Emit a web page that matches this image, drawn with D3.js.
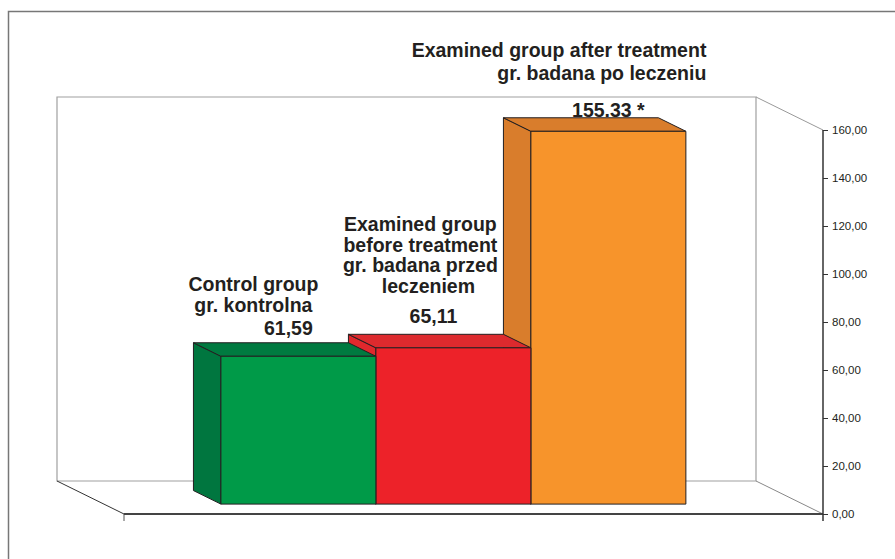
<!DOCTYPE html>
<html>
<head>
    <script src="https://d3js.org/d3.v7.min.js"></script>
    <style>
        body { margin: 0; background: #fff; }
        svg { display: block; }
        .lbl { font-family: "Liberation Sans", Arial, sans-serif; font-weight: bold; font-size: 19.5px; fill: #231f20; }
        .tick text { font-family: "Liberation Sans", Arial, sans-serif; font-size: 11.5px; fill: #231f20; }
    </style>
</head>
<body>
    <svg width="895" height="559"></svg>
    <script>
        // data
        const categories = ["Control group", "Examined group before treatment", "Examined group after treatment"];
        const values = [61.59, 65.11, 155.33];
        const valueLabels = ["61,59", "65,11", "155.33 *"];
        const labelLines = [
            ["Control group", "gr. kontrolna"],
            ["Examined group", "before treatment", "gr. badana przed", "leczeniem"],
            ["Examined group after treatment", "gr. badana po leczeniu"]
        ];
        const tickValues = [0, 20, 40, 60, 80, 100, 120, 140, 160];

        const colors = [
            {front: "#009a48", top: "#007a40", side: "#00763f"},
            {front: "#ed2229", top: "#dd2a2e", side: "#e0282d"},
            {front: "#f7942b", top: "#d97d2c", side: "#d97d2c"}
        ];

        const svg = d3.select("svg");
        const DX = -67, DY = -33;  // depth offset of back wall
        const z0 = 0.3, z1 = 0.71; // bar depth range

        const x = d3.scaleBand().domain(categories).range([124, 823]).paddingInner(0).paddingOuter(0.755);
        const y = d3.scaleLinear().domain([0, 160]).range([514, 130]);

        const P = (xs, v, z) => [xs + z * DX, y(v) + z * DY];
        const poly = pts => "M" + pts.map(p => p.join(",")).join("L") + "Z";

        // outer frame
        svg.append("path").attr("d", "M8.5,559V11.5H895").attr("fill", "none")
            .attr("stroke", "#777").attr("stroke-width", 1.5);

        // back wall
        const xl = 124, xr = 823;
        const bw = [P(xl, 0, 1), P(xl, 160, 1), P(xr, 160, 1), P(xr, 0, 1)];
        svg.append("path").attr("d", poly(bw)).attr("fill", "none").attr("stroke", "#a0a0a0").attr("stroke-width", 1.2);
        // top right diagonal
        svg.append("line").attr("x1", P(xr, 160, 1)[0]).attr("y1", P(xr, 160, 1)[1])
            .attr("x2", xr).attr("y2", y(160)).attr("stroke", "#999");
        // floor
        svg.append("line").attr("x1", P(xr, 0, 1)[0]).attr("y1", P(xr, 0, 1)[1])
            .attr("x2", xr).attr("y2", y(0)).attr("stroke", "#888");
        svg.append("line").attr("x1", P(xl, 0, 1)[0]).attr("y1", P(xl, 0, 1)[1])
            .attr("x2", xl).attr("y2", y(0)).attr("stroke", "#333");
        svg.append("line").attr("x1", xl).attr("y1", y(0)).attr("x2", xl).attr("y2", y(0) + 7)
            .attr("stroke", "#555");

        // bars, drawn right to left so fronts cover neighbours' sides
        const bars = categories.map((c, i) => ({c, v: values[i], i})).reverse();
        const g = svg.append("g");
        bars.forEach(d => {
            const a = x(d.c), b = a + x.bandwidth();
            const col = colors[d.i];
            const side = [P(a, 0, z0), P(a, d.v, z0), P(a, d.v, z1), P(a, 0, z1)];
            const top = [P(a, d.v, z0), P(b, d.v, z0), P(b, d.v, z1), P(a, d.v, z1)];
            const front = [P(a, 0, z0), P(b, 0, z0), P(b, d.v, z0), P(a, d.v, z0)];
            [[side, col.side], [top, col.top], [front, col.front]].forEach(([pts, f]) => {
                g.append("path").attr("d", poly(pts)).attr("fill", f)
                    .attr("stroke", "#231f20").attr("stroke-width", 1).attr("stroke-linejoin", "round");
            });
        });

        // front floor line
        svg.append("line").attr("x1", xl).attr("y1", y(0)).attr("x2", xr).attr("y2", y(0))
            .attr("stroke", "#444").attr("stroke-width", 2);

        // value axis
        svg.append("g").attr("transform", `translate(${xr},0)`)
            .call(d3.axisRight(y).tickValues(tickValues).tickSize(5).tickPadding(4)
                .tickFormat(d => d3.format(".2f")(d).replace(".", ",")))
            .call(a => a.select(".domain").attr("d", `M0,${y(160)}V${y(0) + 7}`).attr("stroke", "#333").attr("stroke-width", 1.5))
            .call(a => a.selectAll(".tick line").attr("stroke", "#333"));

        // labels
        const cx = d => x(categories[d]) + x.bandwidth() / 2 + z0 * DX;
        const labelPos = [
            {dx: -45, anchor: "middle", base: 291, step: 20.5, vdx: -10, vy: 335},
            {dx: -33, anchor: "middle", base: 231, step: 20.5, vdx: -20, vy: 323},
            {dx: 98, anchor: "end", base: 57, step: 23, vdx: 0, vy: 117}
        ];
        labelLines.forEach((lines, i) => {
            const p = labelPos[i];
            lines.forEach((t, j) => {
                svg.append("text").attr("class", "lbl")
                    .attr("x", cx(i) + p.dx + (i === 1 && j === 3 ? 8 : 0))
                    .attr("y", p.base + j * p.step)
                    .attr("text-anchor", p.anchor).text(t);
            });
            svg.append("text").attr("class", "lbl").attr("x", cx(i) + p.vdx).attr("y", p.vy)
                .attr("text-anchor", "middle").text(valueLabels[i]);
        });
    </script>
</body>
</html>
